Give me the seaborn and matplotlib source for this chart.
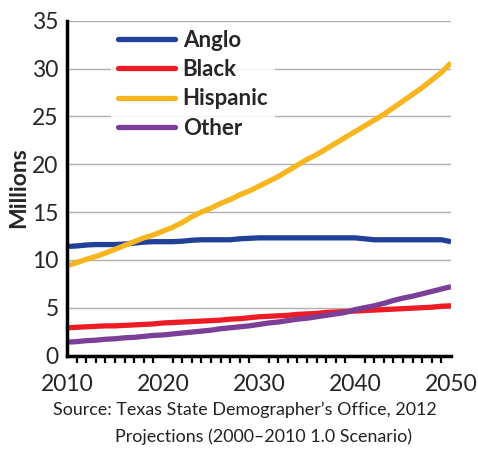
import numpy as np
import pandas as pd
import matplotlib
matplotlib.use("Agg")
import matplotlib.pyplot as plt
import seaborn as sns
from matplotlib.ticker import MultipleLocator

years = list(range(2010, 2051))
anglo = [11.4, 11.45, 11.55, 11.6, 11.6, 11.6, 11.65, 11.75, 11.85, 11.9,
         11.9, 11.9, 11.95, 12.05, 12.1, 12.1, 12.1, 12.1, 12.2, 12.25,
         12.3, 12.3, 12.3, 12.3, 12.3, 12.3, 12.3, 12.3, 12.3, 12.3,
         12.3, 12.2, 12.1, 12.1, 12.1, 12.1, 12.1, 12.1, 12.1, 12.1, 11.9]
black = [2.9, 2.95, 3.0, 3.05, 3.1, 3.1, 3.15, 3.2, 3.25, 3.3,
         3.4, 3.45, 3.5, 3.55, 3.6, 3.65, 3.7, 3.8, 3.85, 3.95,
         4.05, 4.1, 4.15, 4.2, 4.3, 4.35, 4.4, 4.5, 4.55, 4.6,
         4.65, 4.7, 4.75, 4.8, 4.85, 4.9, 4.95, 5.0, 5.05, 5.15, 5.2]
hispanic = [9.4, 9.7, 10.05, 10.35, 10.7, 11.1, 11.5, 11.9, 12.3, 12.6,
            13.0, 13.4, 13.9, 14.5, 15.0, 15.4, 15.9, 16.3, 16.8, 17.2,
            17.7, 18.2, 18.7, 19.3, 19.9, 20.5, 21.0, 21.6, 22.2, 22.8,
            23.4, 24.0, 24.6, 25.2, 25.9, 26.6, 27.3, 28.0, 28.8, 29.6, 30.6]
other = [1.4, 1.45, 1.55, 1.6, 1.7, 1.75, 1.85, 1.9, 2.0, 2.1,
         2.15, 2.25, 2.35, 2.45, 2.55, 2.65, 2.8, 2.9, 3.0, 3.1,
         3.25, 3.4, 3.5, 3.65, 3.8, 3.9, 4.05, 4.2, 4.35, 4.5,
         4.8, 5.0, 5.2, 5.45, 5.75, 6.0, 6.2, 6.45, 6.7, 6.95, 7.2]
groups = ["Anglo", "Black", "Hispanic", "Other"]
colors = ["#21409a", "#ed1c24", "#f7b520", "#7b3f98"]
source_lines = ["Source: Texas State Demographer\u2019s Office, 2012",
                "Projections (2000\u20132010 1.0 Scenario)"]

df = pd.DataFrame({
    "Year": years * 4,
    "Millions": anglo + black + hispanic + other,
    "Group": sum([[g] * len(years) for g in groups], []),
})

sns.set_style("white")
plt.rcParams['font.family'] = ['Lato', 'DejaVu Sans']

fig = plt.figure(figsize=(4.78, 4.49), dpi=100)
ax = fig.add_axes([0.140, 0.2082, 0.8035, 0.7457])

sns.lineplot(data=df, x="Year", y="Millions", hue="Group", hue_order=groups,
             palette=colors, linewidth=3.8, ax=ax, solid_capstyle="butt")

ax.set_xlim(2010, 2050)
ax.set_ylim(0, 35)
ax.set_yticks(range(0, 36, 5))
ax.set_xticks(range(2010, 2051, 10))
ax.xaxis.set_minor_locator(MultipleLocator(1))
ax.yaxis.grid(True, color="#b0b0b0", linewidth=1.0)
ax.xaxis.grid(False)
ax.set_axisbelow(True)
for s in ["top", "right"]:
    ax.spines[s].set_visible(False)
for s in ["left", "bottom"]:
    ax.spines[s].set_color("black")
    ax.spines[s].set_linewidth(2.5)
ax.tick_params(axis="x", which="major", direction="out", length=8, width=2,
               color="black", labelsize=16.5, pad=5)
ax.tick_params(axis="x", which="minor", direction="out", length=5, width=1.6,
               color="black", bottom=True)
ax.tick_params(axis="y", which="major", length=0, labelsize=16.5, pad=6)
ax.set_xlabel("")
ax.set_ylabel("Millions", fontsize=16.5, fontweight="bold", labelpad=2)

leg = ax.legend(loc="upper left", bbox_to_anchor=(0.115, 0.992), frameon=True,
                fontsize=16, handlelength=2.56, handletextpad=0.36,
                labelspacing=0.37, borderpad=0.3, borderaxespad=0)
frame = leg.get_frame()
frame.set_facecolor("white")
frame.set_edgecolor("none")
frame.set_alpha(0.85)
for t in leg.get_texts():
    t.set_fontweight("bold")
for l in leg.get_lines():
    l.set_linewidth(3.8)
    l.set_solid_capstyle("round")

fig.text(53 / 478, 1 - 410 / 449, source_lines[0], fontsize=12.9,
         ha="left", va="center", color="#222222")
fig.text(115 / 478, 1 - 437 / 449, source_lines[1], fontsize=12.9,
         ha="left", va="center", color="#222222")

fig.savefig("out.png", dpi=100)
